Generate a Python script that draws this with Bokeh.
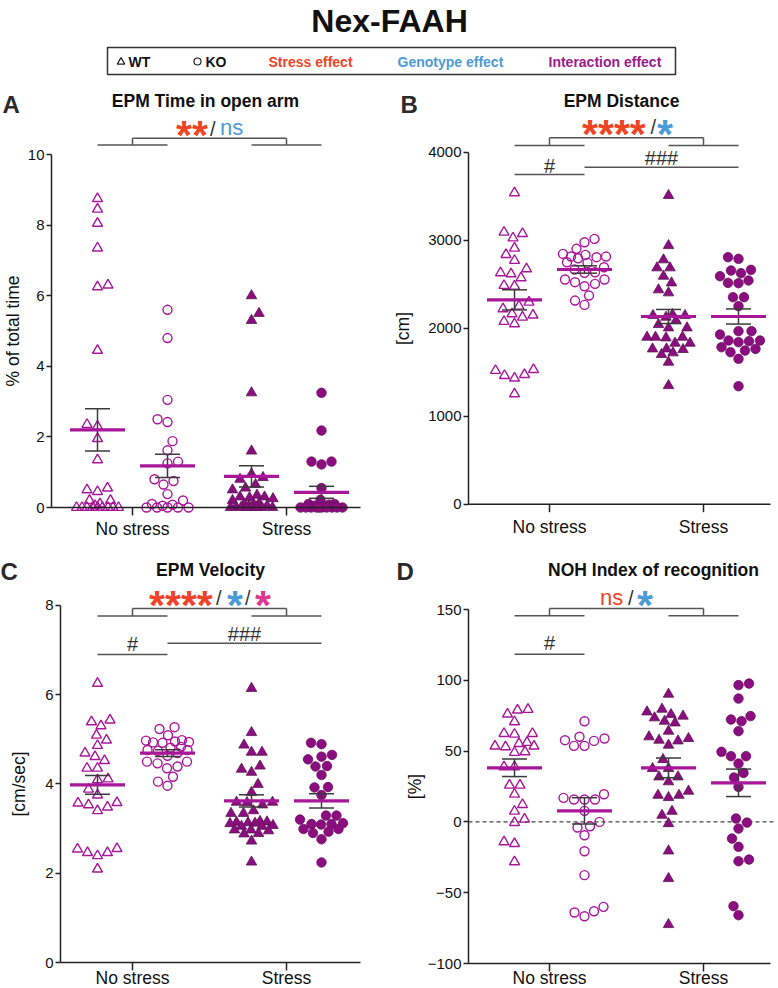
import numpy as np
from bokeh.plotting import figure
from bokeh.models import Range1d, FixedTicker
from bokeh.layouts import column, row
from bokeh.embed import file_html
from bokeh.resources import INLINE
from bokeh.core.properties import value

FONT = "Liberation Sans"

# ---------------- data ----------------
main_title = "Nex-FAAH"
conditions = ["No stress", "Stress"]
genotypes = ["WT", "KO"]
effects = ["Stress effect", "Genotype effect", "Interaction effect"]
panel_letters = ["A", "B", "C", "D"]
panel_titles = ["EPM Time in open arm", "EPM Distance", "EPM Velocity", "NOH Index of recognition"]
y_labels = ["% of total time", "[cm]", "[cm/sec]", "[%]"]

# A  EPM time in open arm (% of total time)
time_wt_nostress = [8.75, 8.45, 8.05, 7.35, 6.25, 6.3, 4.45, 2.3, 2.35, 1.95, 1.35, 0.5, 0.45, 0.55,
                    0.2, 0.2, 0.1, 0.05, 0.0, 0.0, 0.0, 0.0, 0.0, 0.0, 0.0, 0.0, 0.0]
time_ko_nostress = [5.6, 4.8, 3.05, 2.5, 2.42, 1.88, 1.62, 1.3, 1.25, 0.8, 0.75, 0.65, 0.38, 0.2,
                    0.1, 0.08, 0.05, 0.0, 0.0, 0.0, 0.0, 0.0]
time_wt_stress = [6.0, 5.5, 5.3, 3.25, 1.6, 0.95, 0.85, 0.8, 0.65, 0.55, 0.5, 0.35, 0.3, 0.3, 0.28,
                  0.25, 0.2, 0.12, 0.1, 0.08, 0.05, 0.05, 0.02, 0.0, 0.0, 0.0, 0.0, 0.0, 0.0, 0.0]
time_ko_stress = [3.25, 2.18, 1.3, 1.22, 1.3, 0.55, 0.22, 0.1, 0.08, 0.1, 0.05, 0.02, 0.0, 0.0,
                  0.0, 0.0, 0.0, 0.0, 0.0, 0.0, 0.0, 0.0]
time_mean = [2.2, 1.18, 0.88, 0.43]
time_sem = [0.6, 0.33, 0.30, 0.17]
time_ticks = [0, 2, 4, 6, 8, 10]
time_sig = ["**", "/", "ns"]

# B  EPM distance (cm)
dist_wt_nostress = [3538, 3075, 3025, 3090, 2909, 2837, 2769, 2674, 2629, 2617, 2572, 2485, 2477,
                    2295, 2250, 2220, 2163, 2125, 2148, 2076, 2049, 1519, 1462, 1432, 1473, 1530, 1254]
dist_ko_nostress = [3015, 2977, 2902, 2845, 2814, 2807, 2795, 2814, 2833, 2742, 2750, 2693, 2667,
                    2636, 2629, 2553, 2553, 2504, 2523, 2477, 2371, 2314, 2265]
dist_wt_stress = [3508, 2939, 2777, 2686, 2686, 2591, 2515, 2436, 2402, 2144, 2144, 2125, 2155,
                  2087, 2042, 2004, 2004, 1898, 1890, 1898, 1898, 1830, 1830, 1765, 1758, 1765,
                  1720, 1701, 1614, 1348]
dist_ko_stress = [1341, 1652, 1727, 1765, 1860, 1841, 1860, 1852, 1784, 1746, 1966, 1966, 1928,
                  2250, 2352, 2352, 2515, 2511, 2542, 2591, 2625, 2655, 2663, 2807, 2788]
dist_mean = [2322, 2667, 2133, 2133]
dist_sem = [114, 42, 80, 86]
dist_ticks = [0, 1000, 2000, 3000, 4000]
dist_sig = ["****", "/", "*"]
dist_posthoc = ["#", "###"]

# C  EPM velocity (cm/sec)
vel_wt_nostress = [6.25, 5.43, 5.39, 5.30, 5.09, 4.98, 4.86, 4.69, 4.61, 4.52, 4.35, 4.35, 4.11,
                   4.09, 3.88, 3.75, 3.58, 3.57, 3.53, 3.48, 3.40, 2.54, 2.46, 2.39, 2.46, 2.55, 2.09]
vel_ko_nostress = [5.23, 5.27, 5.09, 4.98, 4.94, 4.93, 4.92, 4.95, 4.97, 4.81, 4.83, 4.76, 4.76,
                   4.74, 4.69, 4.63, 4.50, 4.50, 4.46, 4.39, 4.35, 4.16, 4.05, 3.96]
vel_wt_stress = [6.14, 5.15, 4.87, 4.71, 4.71, 4.40, 4.33, 4.26, 3.99, 3.81, 3.59, 3.58, 3.59, 3.53,
                 3.40, 3.34, 3.34, 3.16, 3.14, 3.11, 3.12, 3.13, 3.15, 3.05, 3.05, 3.07, 2.97, 2.95,
                 2.97, 2.88, 2.89, 2.72, 2.25]
vel_ko_stress = [4.89, 4.92, 4.61, 4.65, 4.55, 4.39, 4.40, 4.20, 3.93, 3.92, 3.75, 3.29, 3.29, 3.20,
                 3.10, 3.09, 3.10, 3.12, 2.99, 2.90, 2.93, 2.99, 2.76, 2.24]
vel_mean = [3.98, 4.69, 3.62, 3.62]
vel_sem = [0.21, 0.075, 0.135, 0.16]
vel_ticks = [0, 2, 4, 6, 8]
vel_sig = ["****", "/", "*", "/", "*"]
vel_posthoc = ["#", "###"]

# D  NOH index of recognition (%)
noh_wt_nostress = [79.4, 78.9, 76.1, 70.7, 62.4, 61.9, 62.4, 55.3, 56.1, 53.5, 53.0, 53.5, 49.0,
                   49.5, 38.9, 38.9, 25.9, 25.9, 19.5, 12.2, 7.5, 1.9, -0.5, -14.1, -15.3, -28.2]
noh_ko_nostress = [71.1, 58.9, 57.2, 60.1, 53.7, 53.7, 57.7, 17.0, 15.8, 15.8, 15.8, 19.5, 7.8,
                   0.0, -3.1, -4.0, -9.4, -20.7, -37.6, -60.0, -63.1, -64.0, -66.6]
noh_wt_stress = [90.2, 74.7, 77.7, 79.6, 75.8, 71.1, 69.9, 73.5, 64.1, 58.9, 57.7, 57.2, 60.1, 54.2,
                 44.0, 37.7, 37.7, 31.8, 31.8, 28.3, 21.7, 18.8, 17.2, 18.8, 7.5, 4.7, -1.2, -20.5,
                 -40.0, -72.5]
noh_ko_stress = [97.7, 96.6, 87.1, 74.7, 72.3, 71.1, 64.1, 49.5, 46.4, 46.4, 41.2, 34.6, 31.3, 24.7,
                 2.4, -0.5, -4.7, -11.8, -17.6, -27.8, -26.6, -59.5, -65.9]
noh_mean = [38.2, 7.8, 38.2, 27.6]
noh_sem = [6.2, 9.3, 7.0, 9.7]
noh_ticks = [-100, -50, 0, 50, 100, 150]
noh_sig = ["ns", "/", "*"]
noh_posthoc = ["#"]

# ---------------- styling / layout ----------------
RED = "#EE4326"
BLUE = "#4C9AD6"
PINK = "#E2358D"
PURPLE = "#9B1A8D"
DARK = "#333333"
MAG = "#A8179A"
FILL = "#8C0D7F"
ERR = "#3A3A3A"
BRK = "#555555"

GX = [1.0, 2.0, 3.2, 4.2]          # group centres
CX = [1.5, 3.7]                     # condition ticks
PXX = 70.0                          # px per x unit

STYLES = [
    dict(marker="triangle", size=10, fill_color=None, line_color=MAG, line_width=1.4),
    dict(marker="circle", size=9, fill_color=None, line_color=MAG, line_width=1.4),
    dict(marker="triangle", size=10.5, fill_color=FILL, line_color="#5A1552", line_width=0.8),
    dict(marker="circle", size=9.5, fill_color=FILL, line_color="#6B1062", line_width=0.8),
]

# vertical offsets: text anchor y is the text's vertical centre
SEG = {
    "star": dict(size="41px", style="bold", yoff=6.5),
    "ns": dict(size="22px", style="normal", yoff=-1.0),
    "sl": dict(size="20px", style="normal", yoff=0.0),
}


def swarm(vals, s, d=10.3, maxw=21.5):
    v = np.asarray(vals, float)
    ypx = v * s
    order = np.argsort(v, kind="stable")
    xs = np.zeros(len(v))
    cands = np.arange(-maxw, maxw + 0.01, 0.5)
    px, py = [], []
    for i in order:
        if px:
            P0 = np.array(px)
            P1 = np.array(py)
            dist = np.sqrt((cands[:, None] - P0[None, :]) ** 2 + (ypx[i] - P1[None, :]) ** 2).min(axis=1)
            bias = np.sign(np.mean(P0))
        else:
            dist = np.full(len(cands), np.inf)
            bias = 0.0
        ok = dist >= d
        if ok.any():
            c = cands[ok]
            key = np.abs(c) + 1e-3 * np.sign(c) * bias
            x = c[np.argmin(key)]
        else:
            x = cands[np.argmax(dist - 1e-3 * np.abs(cands))]
        xs[i] = x
        px.append(x)
        py.append(ypx[i])
    return xs


def txt(p, x, y, t, color, size, style="normal", align="left", xo=0, yo=0):
    p.text(x=[x], y=[y], text=[t], text_color=color, text_font=value(FONT),
           text_font_size=value(size), text_font_style=style, text_align=align,
           text_baseline="alphabetic", x_offset=xo, y_offset=yo)


def make_panel(P):
    fig_w = P["w"]
    fig_h = P["bottom"] - P["top"]
    s = P["s"]

    def X(px):
        return 1 + (px - P["g1"]) / PXX

    def Y(py):
        return P["vref"] + (P["pref"] - py) / s

    xs, xe = X(P["fx0"]), X(P["fx0"] + fig_w)
    xa, xr = X(P["fl"]), X(P["fr"])
    p = figure(width=fig_w, height=fig_h, x_range=Range1d(xs, xe),
               y_range=Range1d(Y(P["bottom"]), Y(P["top"])),
               x_axis_type=None, toolbar_location=None, output_backend="svg",
               min_border=0, outline_line_color=None, title=None)
    p.grid.visible = False
    ticks = P["ticks"]
    ax = p.yaxis[0]
    ax.fixed_location = xa
    ax.ticker = FixedTicker(ticks=ticks)
    ax.bounds = (ticks[0], ticks[-1])
    ax.axis_label = P["ylabel"]
    ax.axis_label_text_font = FONT
    ax.axis_label_text_font_size = "17.5px"
    ax.axis_label_text_font_style = "normal"
    ax.axis_label_text_color = "#111111"
    ax.axis_label_standoff = P["std"]
    ax.major_label_text_font = FONT
    ax.major_label_text_font_size = "15px"
    ax.major_label_text_color = "#111111"
    ax.major_label_standoff = 2
    ax.major_tick_out = 5
    ax.major_tick_in = 0
    ax.minor_tick_line_color = None
    ax.axis_line_width = 1.5
    ax.axis_line_color = "#222222"
    ax.major_tick_line_width = 1.5
    ax.major_tick_line_color = "#222222"

    amin = ticks[0]
    if P.get("zero"):
        p.segment(x0=[xa], x1=[xe], y0=[0], y1=[0], line_color="#444444", line_width=1.3,
                  line_dash="4 3")

    # points (beeswarm)
    for gi in range(4):
        vals = np.asarray(P["data"][gi], float)
        off = swarm(vals, s)
        st = STYLES[gi]
        p.scatter(x=GX[gi] + off / PXX, y=vals, marker=st["marker"], size=st["size"],
                  fill_color=st["fill_color"], line_color=st["line_color"],
                  line_width=st["line_width"])

    # mean +/- SEM
    mean = np.asarray(P["mean"], float)
    sem = np.asarray(P["sem"], float)
    gx = np.asarray(GX)
    cw = 12.5 / PXX
    mw = 27.5 / PXX
    p.segment(x0=gx, x1=gx, y0=mean - sem, y1=mean + sem, line_color=ERR, line_width=1.5)
    p.segment(x0=np.r_[gx - cw, gx - cw], x1=np.r_[gx + cw, gx + cw],
              y0=np.r_[mean - sem, mean + sem], y1=np.r_[mean - sem, mean + sem],
              line_color=ERR, line_width=1.5)
    p.segment(x0=gx - mw, x1=gx + mw, y0=mean, y1=mean, line_color=MAG, line_width=3.2)

    # x axis drawn on the value axis minimum
    p.segment(x0=[xa], x1=[xr], y0=[amin], y1=[amin], line_color="#222222", line_width=1.5)
    p.segment(x0=CX, x1=CX, y0=[amin, amin], y1=[amin - 8 / s] * 2, line_color="#222222",
              line_width=1.5)
    p.text(x=CX, y=[amin, amin], text=conditions, text_color="#111111", text_font=value(FONT),
           text_font_size=value("17.5px"), text_align="center", text_baseline="alphabetic",
           y_offset=P["laboff"])

    # significance bracket
    lo, hi, ty = P["br"]
    p.segment(x0=[GX[0], GX[2], CX[0], CX[1], CX[0]], x1=[GX[1], GX[3], CX[0], CX[1], CX[1]],
              y0=[lo, lo, lo, lo, hi], y1=[lo, lo, hi, hi, hi], line_color=BRK, line_width=1.5)
    bc = (CX[0] + CX[1]) / 2
    for t, col, kind, xo in zip(P["sig"], P["sigcol"], P["sigkind"], P["sigoff"]):
        k = SEG[kind]
        txt(p, bc, ty, t, col, k["size"], k["style"], "left", xo, k["yoff"])

    # post-hoc lines
    for t, (ga, gb, ly, tyy) in zip(P.get("ph", []), P.get("phpos", [])):
        p.segment(x0=[GX[ga]], x1=[GX[gb]], y0=[ly], y1=[ly], line_color=BRK, line_width=1.5)
        txt(p, (GX[ga] + GX[gb]) / 2, tyy, t, DARK, "20px", "normal", "center", 0, 0)

    # panel letter and title
    lx, ly_ = P["letter_at"]
    txt(p, X(lx), Y(ly_), P["letter"], "#2A2A2A", "24px", "bold", "left")
    tx, ty_ = P["title_at"]
    txt(p, X(tx), Y(ty_), P["title"], "#111111", "17.5px", "bold", "center")
    return p


panels = [
    dict(fx0=0, w=390, fl=51, fr=360, g1=97, top=84, bottom=542, vref=0, pref=507, s=35.3,
         ticks=time_ticks, ylabel=y_labels[0], std=2, laboff=21.5,
         letter=panel_letters[0], letter_at=(2, 103.5), title=panel_titles[0], title_at=(205, 100),
         data=[time_wt_nostress, time_ko_nostress, time_wt_stress, time_ko_stress],
         mean=time_mean, sem=time_sem, br=(10.27, 10.46, 10.73),
         sig=time_sig, sigcol=[RED, DARK, BLUE], sigkind=["star", "sl", "ns"],
         sigoff=[-33.5, 0.5, 10.5]),
    dict(fx0=390, w=385, fl=468, fr=770, g1=514, top=84, bottom=542, vref=0, pref=503.7, s=0.088,
         ticks=dist_ticks, ylabel=y_labels[1], std=12, laboff=23,
         letter=panel_letters[1], letter_at=(400, 103.5), title=panel_titles[1], title_at=(621, 100),
         data=[dist_wt_nostress, dist_ko_nostress, dist_wt_stress, dist_ko_stress],
         mean=dist_mean, sem=dist_sem, br=(4076, 4164, 4284),
         sig=dist_sig, sigcol=[RED, DARK, BLUE], sigkind=["star", "sl", "star"],
         sigoff=[-44.5, 24, 30.5],
         ph=dist_posthoc, phpos=[(0, 1, 3747, 3847), (1, 3, 3830, 3936)]),
    dict(fx0=0, w=390, fl=60, fr=360, g1=97, top=542, bottom=987, vref=0, pref=962, s=44.65,
         ticks=vel_ticks, ylabel=y_labels[2], std=13, laboff=15,
         letter=panel_letters[2], letter_at=(0, 571), title=panel_titles[2], title_at=(210, 569.5),
         data=[vel_wt_nostress, vel_ko_nostress, vel_wt_stress, vel_ko_stress],
         mean=vel_mean, sem=vel_sem, br=(7.76, 7.926, 8.157),
         sig=vel_sig, sigcol=[RED, DARK, BLUE, DARK, PINK],
         sigkind=["star", "sl", "star", "sl", "star"], sigoff=[-60.5, 6.5, 17.5, 35.5, 45.5],
         ph=vel_posthoc, phpos=[(0, 1, 6.9, 7.13), (1, 3, 7.15, 7.35)]),
    dict(fx0=390, w=385, fl=468, fr=770, g1=514, top=542, bottom=987, vref=-100, pref=963, s=1.416,
         ticks=noh_ticks, ylabel=y_labels[3], std=0, laboff=14, zero=True,
         letter=panel_letters[3], letter_at=(396, 571), title=panel_titles[3], title_at=(653, 569.5),
         data=[noh_wt_nostress, noh_ko_nostress, noh_wt_stress, noh_ko_stress],
         mean=noh_mean, sem=noh_sem, br=(145.5, 150.7, 158),
         sig=noh_sig, sigcol=[RED, DARK, BLUE], sigkind=["ns", "sl", "star"],
         sigoff=[-26.5, 1.5, 10.5],
         ph=noh_posthoc, phpos=[(0, 1, 118.4, 126)]),
]
figs = [make_panel(P) for P in panels]

# header: title and legend
hdr = figure(width=775, height=84, x_range=Range1d(0, 775), y_range=Range1d(84, 0),
             x_axis_type=None, y_axis_type=None, toolbar_location=None, output_backend="svg",
             min_border=0, outline_line_color=None, title=None)
hdr.grid.visible = False
txt(hdr, 389, 20, main_title, "#111111", "32px", "bold", "center")
hdr.quad(left=[107], right=[675], top=[47], bottom=[74], fill_color=None, line_color="#333333",
         line_width=1.5)
hdr.scatter(x=[120.5], y=[61.5], marker="triangle", size=7.5, fill_color=None, line_color="#222222",
            line_width=1.2)
hdr.scatter(x=[197], y=[61], marker="circle", size=7, fill_color=None, line_color="#222222",
            line_width=1.2)
txt(hdr, 128, 61, genotypes[0], "#111111", "14px", "bold")
txt(hdr, 205, 61, genotypes[1], "#111111", "14px", "bold")
for t, col, x in zip(effects, [RED, BLUE, PURPLE], [268, 397, 548]):
    txt(hdr, x, 61, t, col, "14px", "bold")

layout = column(hdr, row(figs[0], figs[1]), row(figs[2], figs[3]))
open("out.html", "w").write(file_html(layout, INLINE, title=main_title))
